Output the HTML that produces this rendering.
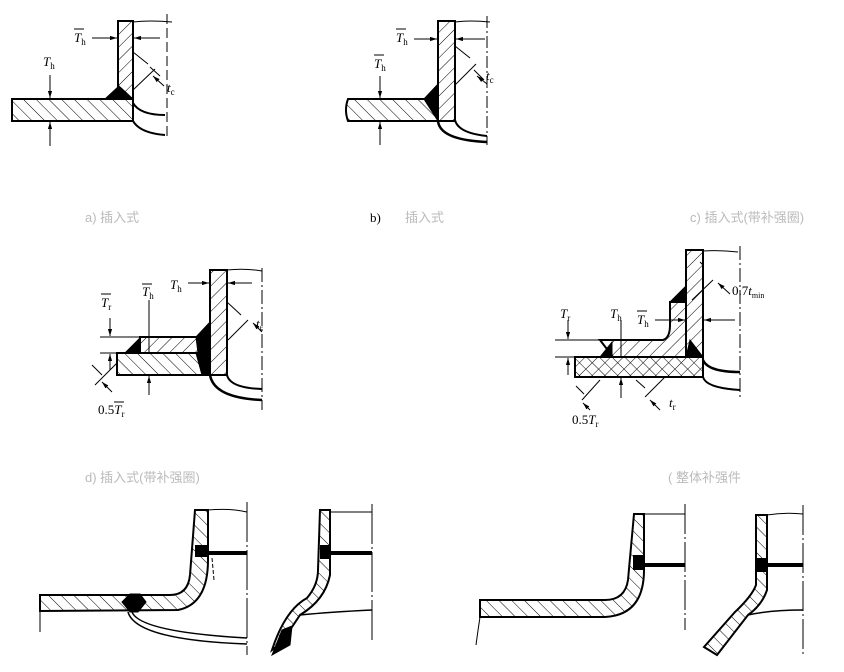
<!DOCTYPE html>
<html><head><meta charset="utf-8"><style>
html,body{margin:0;padding:0;background:#fff;width:844px;height:672px;overflow:hidden}
svg{display:block}
text{font-family:"Liberation Serif","Noto Serif CJK SC",serif;fill:#000}
.cap{font-family:"Liberation Sans","Noto Sans CJK SC",sans-serif;font-size:13px;fill:#bbb}
</style></head><body>
<svg width="844" height="672" viewBox="0 0 844 672" xmlns="http://www.w3.org/2000/svg">
<defs>
<pattern id="hf" width="9" height="9" patternUnits="userSpaceOnUse" patternTransform="rotate(45)"><line x1="0" y1="0" x2="0" y2="9" stroke="#000" stroke-width="1"/></pattern>
<pattern id="hb" width="9" height="9" patternUnits="userSpaceOnUse" patternTransform="rotate(-45)"><line x1="0" y1="0" x2="0" y2="9" stroke="#000" stroke-width="1"/></pattern>
<marker id="ar" viewBox="0 0 10 10" refX="10" refY="5" markerWidth="7" markerHeight="7" orient="auto"><path d="M0,2 L10,5 L0,8z" fill="#000"/></marker>
</defs>
<g fill="none" stroke="#000">

<!-- Fig a -->
<rect x="12" y="99" width="121" height="22" fill="url(#hb)" stroke-width="2"/>
<rect x="118" y="21" width="15" height="78" fill="url(#hf)" stroke-width="2"/>
<path d="M105,99 L119,86 L133,99z" fill="#000"/>
<path d="M133,103 Q140,115 165,115" stroke-width="2"/>
<path d="M133,121 Q140,133 165,135" stroke-width="2"/>
<path d="M133,22 Q150,20 172,22" stroke-width="1"/>
<line x1="167" y1="14" x2="167" y2="140" stroke-dasharray="10,4" stroke-width="1"/>
<line x1="50" y1="75" x2="50" y2="98" marker-end="url(#ar)"/>
<line x1="50" y1="146" x2="50" y2="122" marker-end="url(#ar)"/>
<line x1="92" y1="38" x2="117" y2="38" marker-end="url(#ar)"/>
<line x1="160" y1="38" x2="134" y2="38" marker-end="url(#ar)"/>
<line x1="133" y1="52" x2="148" y2="64"/><line x1="155" y1="69" x2="133" y2="90"/>
<line x1="160" y1="76" x2="150" y2="67"/>
<line x1="164" y1="86" x2="153" y2="76" marker-end="url(#ar)"/>

<!-- Fig b -->
<path d="M348,99 L438,99 L438,121 L348,121 Q344,110 348,99z" fill="url(#hb)" stroke-width="2"/>
<rect x="438" y="21" width="17" height="100" fill="url(#hf)" stroke-width="2"/>
<path d="M424,99 L438,84 L438,121z" fill="#000"/>
<path d="M455,120 Q458,133 487,136" stroke-width="2"/>
<path d="M438,121 Q440,140 487,142" stroke-width="2.5"/>
<path d="M455,22 Q470,20 490,22"/>
<line x1="487" y1="16" x2="487" y2="145" stroke-dasharray="12,3,2,3"/>
<line x1="380" y1="76" x2="380" y2="98" marker-end="url(#ar)"/>
<line x1="380" y1="145" x2="380" y2="122" marker-end="url(#ar)"/>
<line x1="414" y1="39" x2="437" y2="39" marker-end="url(#ar)"/>
<line x1="485" y1="39" x2="456" y2="39" marker-end="url(#ar)"/>
<line x1="455" y1="46" x2="470" y2="58"/><line x1="476" y1="64" x2="455" y2="85"/>
<line x1="484" y1="80" x2="474" y2="70"/>
<line x1="487" y1="84" x2="477" y2="76" marker-end="url(#ar)"/>

<!-- Fig c -->
<rect x="117" y="353" width="93" height="22" fill="url(#hb)" stroke-width="2"/>
<rect x="140" y="337" width="60" height="16" fill="url(#hf)" stroke-width="2"/>
<rect x="210" y="270" width="17" height="105" fill="url(#hf)" stroke-width="2"/>
<path d="M125,353 L140,338 L140,353z" fill="#000"/>
<path d="M196,337 L210,322 L210,353 L198,353z" fill="#000"/>
<path d="M196,353 L210,353 L210,375 L202,375z" fill="#000"/>
<path d="M210,375 Q214,398 262,400" stroke-width="2.5"/>
<path d="M227,375 Q230,388 262,389" stroke-width="2"/>
<path d="M227,270 Q245,268 262,271"/>
<line x1="262" y1="268" x2="262" y2="410" stroke-dasharray="14,3,2,3"/>
<line x1="100" y1="337" x2="140" y2="337"/>
<line x1="100" y1="353" x2="117" y2="353"/>
<line x1="110" y1="318" x2="110" y2="336" marker-end="url(#ar)"/>
<line x1="110" y1="370" x2="110" y2="354" marker-end="url(#ar)"/>
<line x1="149" y1="300" x2="149" y2="353"/>
<line x1="149" y1="395" x2="149" y2="376" marker-end="url(#ar)"/>
<line x1="188" y1="283" x2="209" y2="283" marker-end="url(#ar)"/>
<line x1="252" y1="283" x2="228" y2="283" marker-end="url(#ar)"/>
<line x1="227" y1="302" x2="241" y2="315"/><line x1="248" y1="320" x2="228" y2="340"/>
<line x1="262" y1="332" x2="253" y2="323" marker-end="url(#ar)"/>
<line x1="92" y1="365" x2="102" y2="375"/><line x1="95" y1="385" x2="117" y2="363"/>
<line x1="112" y1="392" x2="102" y2="382" marker-end="url(#ar)"/>

<!-- Fig d -->
<rect x="575" y="357" width="128" height="20" fill="url(#hb)" stroke-width="2"/>
<rect x="575" y="357" width="128" height="20" fill="url(#hf)" stroke-width="0"/>
<path d="M600,340 L663,340 Q670,338 670,325 L670,302 L686,302 L686,357 L613,357z" fill="url(#hf)" stroke-width="2"/>
<rect x="686" y="250" width="17" height="107" fill="url(#hf)" stroke-width="2"/>
<path d="M670,302 L686,286 L686,302z" fill="#000"/>
<path d="M600,357 L612,342 L612,357z" fill="#000"/>
<path d="M686,357 L690,340 L703,357z" fill="#000"/>
<path d="M703,360 Q708,372 740,372" stroke-width="2.5"/>
<path d="M703,377 Q706,388 740,390" stroke-width="2"/>
<path d="M703,251 Q720,250 738,252"/>
<line x1="740" y1="246" x2="740" y2="400" stroke-dasharray="14,3,2,3"/>
<line x1="555" y1="340" x2="600" y2="340"/>
<line x1="555" y1="357" x2="575" y2="357"/>
<line x1="568" y1="320" x2="568" y2="339" marker-end="url(#ar)"/>
<line x1="568" y1="375" x2="568" y2="358" marker-end="url(#ar)"/>
<line x1="621" y1="320" x2="621" y2="357"/>
<line x1="621" y1="398" x2="621" y2="378" marker-end="url(#ar)"/>
<line x1="655" y1="320" x2="685" y2="320" marker-end="url(#ar)"/>
<line x1="735" y1="320" x2="704" y2="320" marker-end="url(#ar)"/>
<line x1="703" y1="265" x2="700" y2="262"/><line x1="713" y1="280" x2="692" y2="300"/>
<line x1="730" y1="294" x2="718" y2="283" marker-end="url(#ar)"/>
<line x1="636" y1="380" x2="645" y2="388"/><line x1="645" y1="397" x2="665" y2="377"/>
<line x1="660" y1="410" x2="650" y2="400" marker-end="url(#ar)"/>
<line x1="576" y1="386" x2="584" y2="394"/><line x1="582" y1="400" x2="600" y2="380"/>
<line x1="590" y1="410" x2="583" y2="403" marker-end="url(#ar)"/>

<!-- Fig e1 -->
<path d="M40,595 L170,595 Q188,595 190,575 L195,510 L208,510 L208,560 Q208,604 178,610 L40,611z" fill="url(#hb)" stroke-width="2"/>
<path d="M122,602 L130,594 L140,594 L146,602 L138,612 L130,612z" fill="#000"/>
<rect x="195" y="545" width="14" height="12" fill="#000" stroke="none"/>
<line x1="209" y1="553" x2="247" y2="553" stroke-width="4"/>
<path d="M208,510 Q230,508 247,512"/>
<line x1="247" y1="502" x2="247" y2="655" stroke-dasharray="40,3,2,3"/>
<path d="M132,612 Q140,632 247,638" stroke-width="1.5"/>
<path d="M128,612 Q136,640 247,644" stroke-width="1.5"/>
<path d="M40,611 L40,632"/>
<line x1="212" y1="558" x2="214" y2="580" stroke-dasharray="4,2"/>

<!-- Fig e2 -->
<path d="M320,510 L330,510 L330,575 Q325,600 300,615 L282,642 L272,650 Q285,610 307,598 Q318,585 318,570z" fill="url(#hb)" stroke-width="2"/>
<path d="M272,655 L282,630 L292,626 L290,645z" fill="#000"/>
<rect x="320" y="545" width="11" height="14" fill="#000" stroke="none"/>
<line x1="331" y1="553" x2="372" y2="553" stroke-width="4"/>
<path d="M331,512 L372,512"/>
<path d="M300,615 Q330,612 372,610" stroke-width="1.5"/>
<line x1="372" y1="504" x2="372" y2="642" stroke-dasharray="40,3,2,3"/>

<!-- Fig e3 -->
<path d="M480,600 L605,600 Q625,600 628,580 L634,514 L644,514 L644,570 Q644,615 605,617 L480,617z" fill="url(#hb)" stroke-width="2"/>
<rect x="633" y="555" width="12" height="15" fill="#000" stroke="none"/>
<line x1="644" y1="565" x2="685" y2="565" stroke-width="4"/>
<path d="M644,514 L685,514"/>
<line x1="685" y1="504" x2="685" y2="630" stroke-dasharray="30,3,2,3"/>
<path d="M480,617 Q478,630 476,645"/>

<!-- Fig e4 -->
<path d="M756,515 L767,515 L767,590 Q762,605 748,615 L717,655 L704,647 L735,612 Q752,596 756,585z" fill="url(#hb)" stroke-width="2"/>
<rect x="756" y="558" width="12" height="14" fill="#000" stroke="none"/>
<line x1="767" y1="565" x2="803" y2="565" stroke-width="4"/>
<path d="M767,515 Q785,512 803,514"/>
<path d="M748,615 Q770,610 803,610" stroke-width="1.5"/>
<line x1="803" y1="505" x2="803" y2="655" stroke-dasharray="30,3,2,3"/>
</g>

<!-- Labels -->
<g font-size="13" font-style="italic">
<text x="43" y="66">T<tspan font-size="9" font-style="normal" dy="3">h</tspan></text>
<text x="74" y="42">T<tspan font-size="9" font-style="normal" dy="3">h</tspan></text>
<line x1="74" y1="29" x2="84" y2="29" stroke="#000"/>
<text x="167" y="92">t<tspan font-size="9" font-style="normal" dy="3">c</tspan></text>
<text x="396" y="42">T<tspan font-size="9" font-style="normal" dy="3">h</tspan></text>
<line x1="396" y1="29" x2="406" y2="29" stroke="#000"/>
<text x="374" y="68">T<tspan font-size="9" font-style="normal" dy="3">h</tspan></text>
<line x1="374" y1="55" x2="384" y2="55" stroke="#000"/>
<text x="486" y="80">t<tspan font-size="9" font-style="normal" dy="3">c</tspan></text>
<text x="170" y="289">T<tspan font-size="9" font-style="normal" dy="3">h</tspan></text>
<text x="142" y="296">T<tspan font-size="9" font-style="normal" dy="3">h</tspan></text>
<line x1="142" y1="284" x2="152" y2="284" stroke="#000"/>
<text x="101" y="307">T<tspan font-size="9" font-style="normal" dy="3">r</tspan></text>
<line x1="101" y1="294" x2="111" y2="294" stroke="#000"/>
<text x="256" y="328">t<tspan font-size="9" font-style="normal" dy="3">r</tspan></text>
<text x="98" y="414" font-style="normal">0.5<tspan font-style="italic">T</tspan><tspan font-size="9" dy="3">r</tspan></text>
<line x1="114" y1="402" x2="124" y2="402" stroke="#000"/>
<text x="560" y="318">T<tspan font-size="9" font-style="normal" dy="3">r</tspan></text>
<text x="610" y="318">T<tspan font-size="9" font-style="normal" dy="3">h</tspan></text>
<text x="637" y="324">T<tspan font-size="9" font-style="normal" dy="3">h</tspan></text>
<line x1="637" y1="311" x2="647" y2="311" stroke="#000"/>
<text x="732" y="295" font-style="normal">0.7<tspan font-style="italic">t</tspan><tspan font-size="8" dy="3">min</tspan></text>
<text x="669" y="407">t<tspan font-size="9" font-style="normal" dy="3">r</tspan></text>
<text x="572" y="424" font-style="normal">0.5<tspan font-style="italic">T</tspan><tspan font-size="9" dy="3">r</tspan></text>
</g>
<text x="370" y="222" font-size="13">b)</text>
<text class="cap" x="85" y="222">a) 插入式</text>
<text class="cap" x="405" y="222">插入式</text>
<text class="cap" x="690" y="222">c) 插入式(带补强圈)</text>
<text class="cap" x="85" y="482">d) 插入式(带补强圈)</text>
<text class="cap" x="668" y="482">( 整体补强件</text>
</svg>
</body></html>
